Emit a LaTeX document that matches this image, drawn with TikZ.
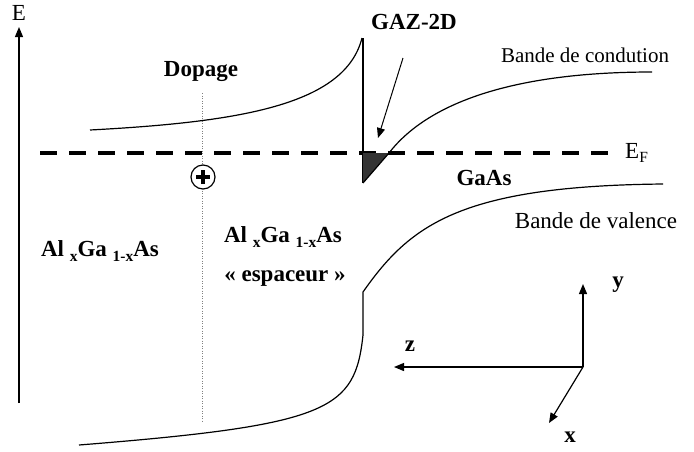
\documentclass[tikz,border=0pt]{standalone}
\usepackage{fontspec}
\setmainfont{Liberation Serif}
\usepackage{tikz}
\usetikzlibrary{positioning, arrows.meta}
\newcommand{\lowsub}[1]{\raisebox{-0.45ex}{\fontsize{15.5}{15.5}\selectfont #1}}

\begin{document}
\begin{tikzpicture}[
    x=1pt, y=-1pt,
    >={Triangle[length=10pt, width=8pt]},
    band/.style={line width=1.2pt, black},
    axis/.style={->, line width=1.2pt, black},
    fermi/.style={line width=4pt, dash pattern=on 17pt off 12pt},
    dopline/.style={line width=0.6pt, gray, dash pattern=on 1pt off 1.5pt},
    txt/.style={font=\fontsize{23}{27}\selectfont, inner sep=1pt},
    btxt/.style={font=\fontsize{23}{27}\selectfont\bfseries, inner sep=1pt},
]
\useasboundingbox (0,0) rectangle (694,451);

% ── Energy axis ────────────────────────────────────────────────────────────
\coordinate (ebot) at (19,403);
\coordinate (etop) at (19,27);
\draw[axis] (ebot) -- (etop);
\node[txt] (elab) at (19,13) {E};

% ── Doping plane ───────────────────────────────────────────────────────────
\draw[dopline] (202,93) -- (202,422);
\node[btxt] (dopage) at (201,72) {Dopage};

% ── Fermi level ────────────────────────────────────────────────────────────
\draw[fermi] (40,153) -- (618,153);
\node[txt, anchor=west] (ef) at (624,153) {E\lowsub{F}};

% ── Ionised donor ──────────────────────────────────────────────────────────
\node[circle, draw, fill=white, line width=1.2pt, minimum size=24pt, inner sep=0pt] (ion) at (203,177) {};
\draw[line width=4.2pt] ([xshift=-7pt]ion.center) -- ([xshift=7pt]ion.center);
\draw[line width=4.2pt] ([yshift=-7pt]ion.center) -- ([yshift=7pt]ion.center);

% ── Conduction band ────────────────────────────────────────────────────────
\draw[band] (90,130) .. controls (240,122) and (345,105) .. (362,38);
\draw[band] (363,38) -- (363,183);
\fill[black!80] (363,153) -- (389,153) -- (363,183) -- cycle;
\draw[band] (363,183) -- (389,153) .. controls (430,100) and (520,72) .. (652,72);
\node[txt, font=\fontsize{21}{25}\selectfont] (cb) at (585,55) {Bande de condution};

% ── 2D electron gas ────────────────────────────────────────────────────────
\node[btxt] (gaz) at (414,22) {GAZ-2D};
\coordinate (gazfrom) at (403,58);
\coordinate (gazto) at (378,138);
\draw[->, line width=1pt] (gazfrom) -- (gazto);

% ── Valence band ───────────────────────────────────────────────────────────
\draw[band] (363,335) -- (363,292) .. controls (410,225) and (460,186) .. (663,184);
\draw[band] (363,335) .. controls (355,410) and (330,425) .. (79,445);
\node[btxt] (gaas) at (484,178) {GaAs};
\node[txt] (vb) at (596,221) {Bande de valence};

% ── Layers ─────────────────────────────────────────────────────────────────
\node[btxt] (barrier) at (100,251) {Al \lowsub{x}Ga \lowsub{1-x}As};
\node[btxt] (spacer) at (283,237) {Al \lowsub{x}Ga \lowsub{1-x}As};
\node[btxt] (espa) at (285,278) {« espaceur »};

% ── Coordinate axes ────────────────────────────────────────────────────────
\coordinate (origin) at (583,367);
\coordinate (ytip) at (583,284);
\coordinate (ztip) at (394,367);
\coordinate (xtip) at (549,423);
\draw[axis] (origin) -- (ytip);
\draw[axis] (origin) -- (ztip);
\draw[axis] (origin) -- (xtip);
\node[btxt] (ylab) at (618,285) {y};
\node[btxt] (zlab) at (410,346) {z};
\node[btxt] (xlab) at (570,437) {x};

\end{tikzpicture}
\end{document}
